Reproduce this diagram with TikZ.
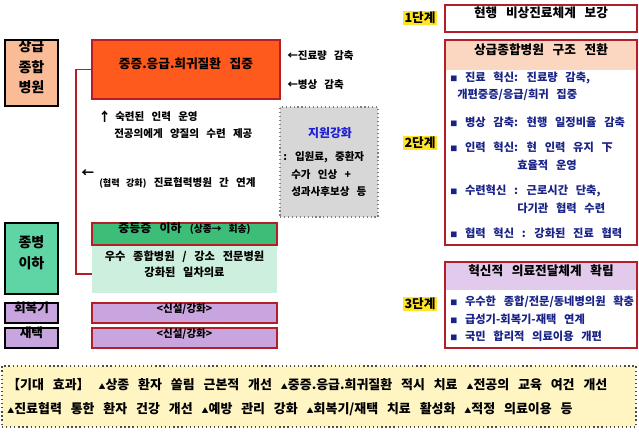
\documentclass[tikz,border=0pt]{standalone}
\usepackage{fontspec}
\setmainfont{Noto Sans CJK KR}[WordSpace=3]
\usetikzlibrary{fit,positioning}

\definecolor{boxred}{RGB}{180,30,40}
\definecolor{salmon}{RGB}{250,188,150}
\definecolor{hotorange}{RGB}{255,90,30}
\definecolor{midgreen}{RGB}{60,190,120}
\definecolor{sidegreen}{RGB}{95,212,165}
\definecolor{palegreen}{RGB}{205,240,222}
\definecolor{lilac}{RGB}{200,165,222}
\definecolor{peach}{RGB}{251,214,192}
\definecolor{lavender}{RGB}{226,202,236}
\definecolor{navytxt}{RGB}{25,35,135}
\definecolor{supblue}{RGB}{30,30,210}
\definecolor{hilite}{RGB}{255,228,40}
\definecolor{cream}{RGB}{255,245,195}
\definecolor{graybox}{RGB}{215,215,215}

\newcommand{\sq}{{\fontsize{5}{5}\selectfont ■}}
\newcommand{\tri}{{\fontsize{5}{5}\selectfont ▲}}

\tikzset{
  side/.style={draw=black, line width=1.3pt, inner sep=0pt, align=center, font=\fontsize{10}{14.6}\selectfont\bfseries},
  redbox/.style={draw=boxred, line width=1.2pt, inner sep=0pt, align=center},
  band/.style={inner sep=0pt, align=center},
  note/.style={inner sep=0pt, anchor=west, font=\fontsize{7.5}{9}\selectfont\bfseries},
  bullet/.style={note, text=navytxt, font=\fontsize{8}{9}\selectfont\bfseries},
  head/.style={font=\fontsize{9}{11}\selectfont\bfseries},
  stagelbl/.style={fill=hilite, inner sep=1pt, font=\fontsize{9}{10}\selectfont\bfseries},
  link/.style={draw=boxred, line width=1pt},
}

\begin{document}
\begin{tikzpicture}[x=0.025cm, y=-0.025cm, font=\bfseries]
  \useasboundingbox (0,0) rectangle (639,433);
  % Left column: hospital levels
  \node (sang) [side, fill=salmon, fit={(5,40) (58,106)}] {상급\\종합\\병원};
  \node (jong) [side, fill=sidegreen, fit={(5,223) (58,294)}] {종병\\이하};
  \node (recov) [side, fill=lilac, fit={(5,303) (58,323)}, font=\fontsize{9}{10}\selectfont\bfseries] {회복기};
  \node (home) [side, fill=lilac, fit={(5,328) (58,348)}, font=\fontsize{9}{10}\selectfont\bfseries] {재택};

  % Upper tier
  \node (focus) [redbox, fill=hotorange, fit={(92,40) (280,99)}, head] {중증.응급.희귀질환 집중};
  \node (cutvol) [note] at (287,56) {←진료량 감축};
  \node (cutbed) [note] at (287,85) {←병상 감축};
  \node (uparr) [note, font=\fontsize{9}{9}\selectfont\bfseries] at (98,117) {↑};
  \node (skill) [note] at (115,117) {숙련된 인력 운영};
  \node (train) [note] at (114,134) {전공의에게 양질의 수련 제공};
  \node (leftarr) [note, font=\fontsize{9}{9}\selectfont\bfseries] at (81,174) {←};
  \node (coop) [note] at (99,183) {{\fontsize{6.5}{8}\selectfont(협력 강화)} 진료협력병원 간 연계};

  % Support box
  \node (support) [fill=graybox, draw=gray, dotted, line width=0.8pt, inner sep=0pt, fit={(280,107) (378,217)}] {};
  \node (suptitle) [font=\fontsize{8.5}{10}\selectfont\bfseries, text=supblue] at (330,133) {지원강화};
  \node (sup1) [note] at (283,157) {: 입원료, 중환자};
  \node (sup2) [note] at (291,175) {수가 인상 +};
  \node (sup3) [note] at (291,192) {성과사후보상 등};

  % Lower tier
  \node (prim) [band, fill=palegreen, fit={(92,245) (277,293)}, font=\fontsize{8}{11.5}\selectfont\bfseries] {우수 종합병원 / 강소 전문병원\\강화된 일차의료};
  \node (moder) [redbox, fill=midgreen, fit={(92,223) (277,245)}, font=\fontsize{8.5}{10}\selectfont\bfseries] {중등증 이하 {\fontsize{7}{8}\selectfont(상종→ 회송)}};
  \node (new1) [redbox, fill=lilac, fit={(92,303) (277,323)}, font=\fontsize{7.5}{8}\selectfont\bfseries] {<신설/강화>};
  \node (new2) [redbox, fill=lilac, fit={(92,328) (277,348)}, font=\fontsize{7.5}{8}\selectfont\bfseries] {<신설/강화>};
  \coordinate (bend) at (76,274);
  \draw[link] (focus.west) -| (bend) -- (bend -| prim.west);

  % Stage 1
  \node (stage1) [stagelbl] at (420,18) {1단계};
  \node (now) [redbox, fill=white, fit={(445,5) (637,32)}, head] {현행 비상진료체계 보강};

  % Stage 2
  \node (stage2) [stagelbl] at (420,143) {2단계};
  \node (head2) [band, fill=peach, fit={(445,40) (637,70)}, head] {상급종합병원 구조 전환};
  \node (struct) [redbox, fit={(445,40) (637,245)}] {};
  \node (b21) [bullet] at (450,78) {\sq{} 진료 혁신: 진료량 감축,};
  \node (b21b) [bullet] at (457,95) {개편중증/응급/희귀 집중};
  \node (b22) [bullet] at (450,122) {\sq{} 병상 감축: 현행 일정비율 감축};
  \node (b23) [bullet] at (450,147) {\sq{} 인력 혁신: 현 인력 유지 下};
  \node (b23b) [bullet] at (517,165) {효율적 운영};
  \node (b24) [bullet] at (450,191) {\sq{} 수련혁신 : 근로시간 단축,};
  \node (b24b) [bullet] at (517,208) {다기관 협력 수련};
  \node (b25) [bullet] at (450,233) {\sq{} 협력 혁신 : 강화된 진료 협력};

  % Stage 3
  \node (stage3) [stagelbl] at (420,304) {3단계};
  \node (head3) [band, fill=lavender, fit={(445,262) (637,290)}, head] {혁신적 의료전달체계 확립};
  \node (deliv) [redbox, fit={(445,262) (637,348)}] {};
  \node (b31) [bullet] at (450,302) {\sq{} 우수한 종합/전문/동네병의원 확충};
  \node (b32) [bullet] at (450,319) {\sq{} 급성기-회복기-재택 연계};
  \node (b33) [bullet] at (450,336) {\sq{} 국민 합리적 의료이용 개편};

  % Expected effects
  \node (effect) [fill=cream, draw=black!70, dotted, line width=0.9pt, inner sep=0pt, fit={(2,366) (636,427)}] {};
  \node (eff1) [note, font=\fontsize{9.2}{11}\selectfont\bfseries] at (7,385) {【기대 효과】 \tri{}상종 환자 쏠림 근본적 개선 \tri{}중증.응급.희귀질환 적시 치료 \tri{}전공의 교육 여건 개선};
  \node (eff2) [note, font=\fontsize{9.2}{11}\selectfont\bfseries] at (7,409) {\tri{}진료협력 통한 환자 건강 개선 \tri{}예방 관리 강화 \tri{}회복기/재택 치료 활성화 \tri{}적정 의료이용 등};
\end{tikzpicture}
\end{document}
